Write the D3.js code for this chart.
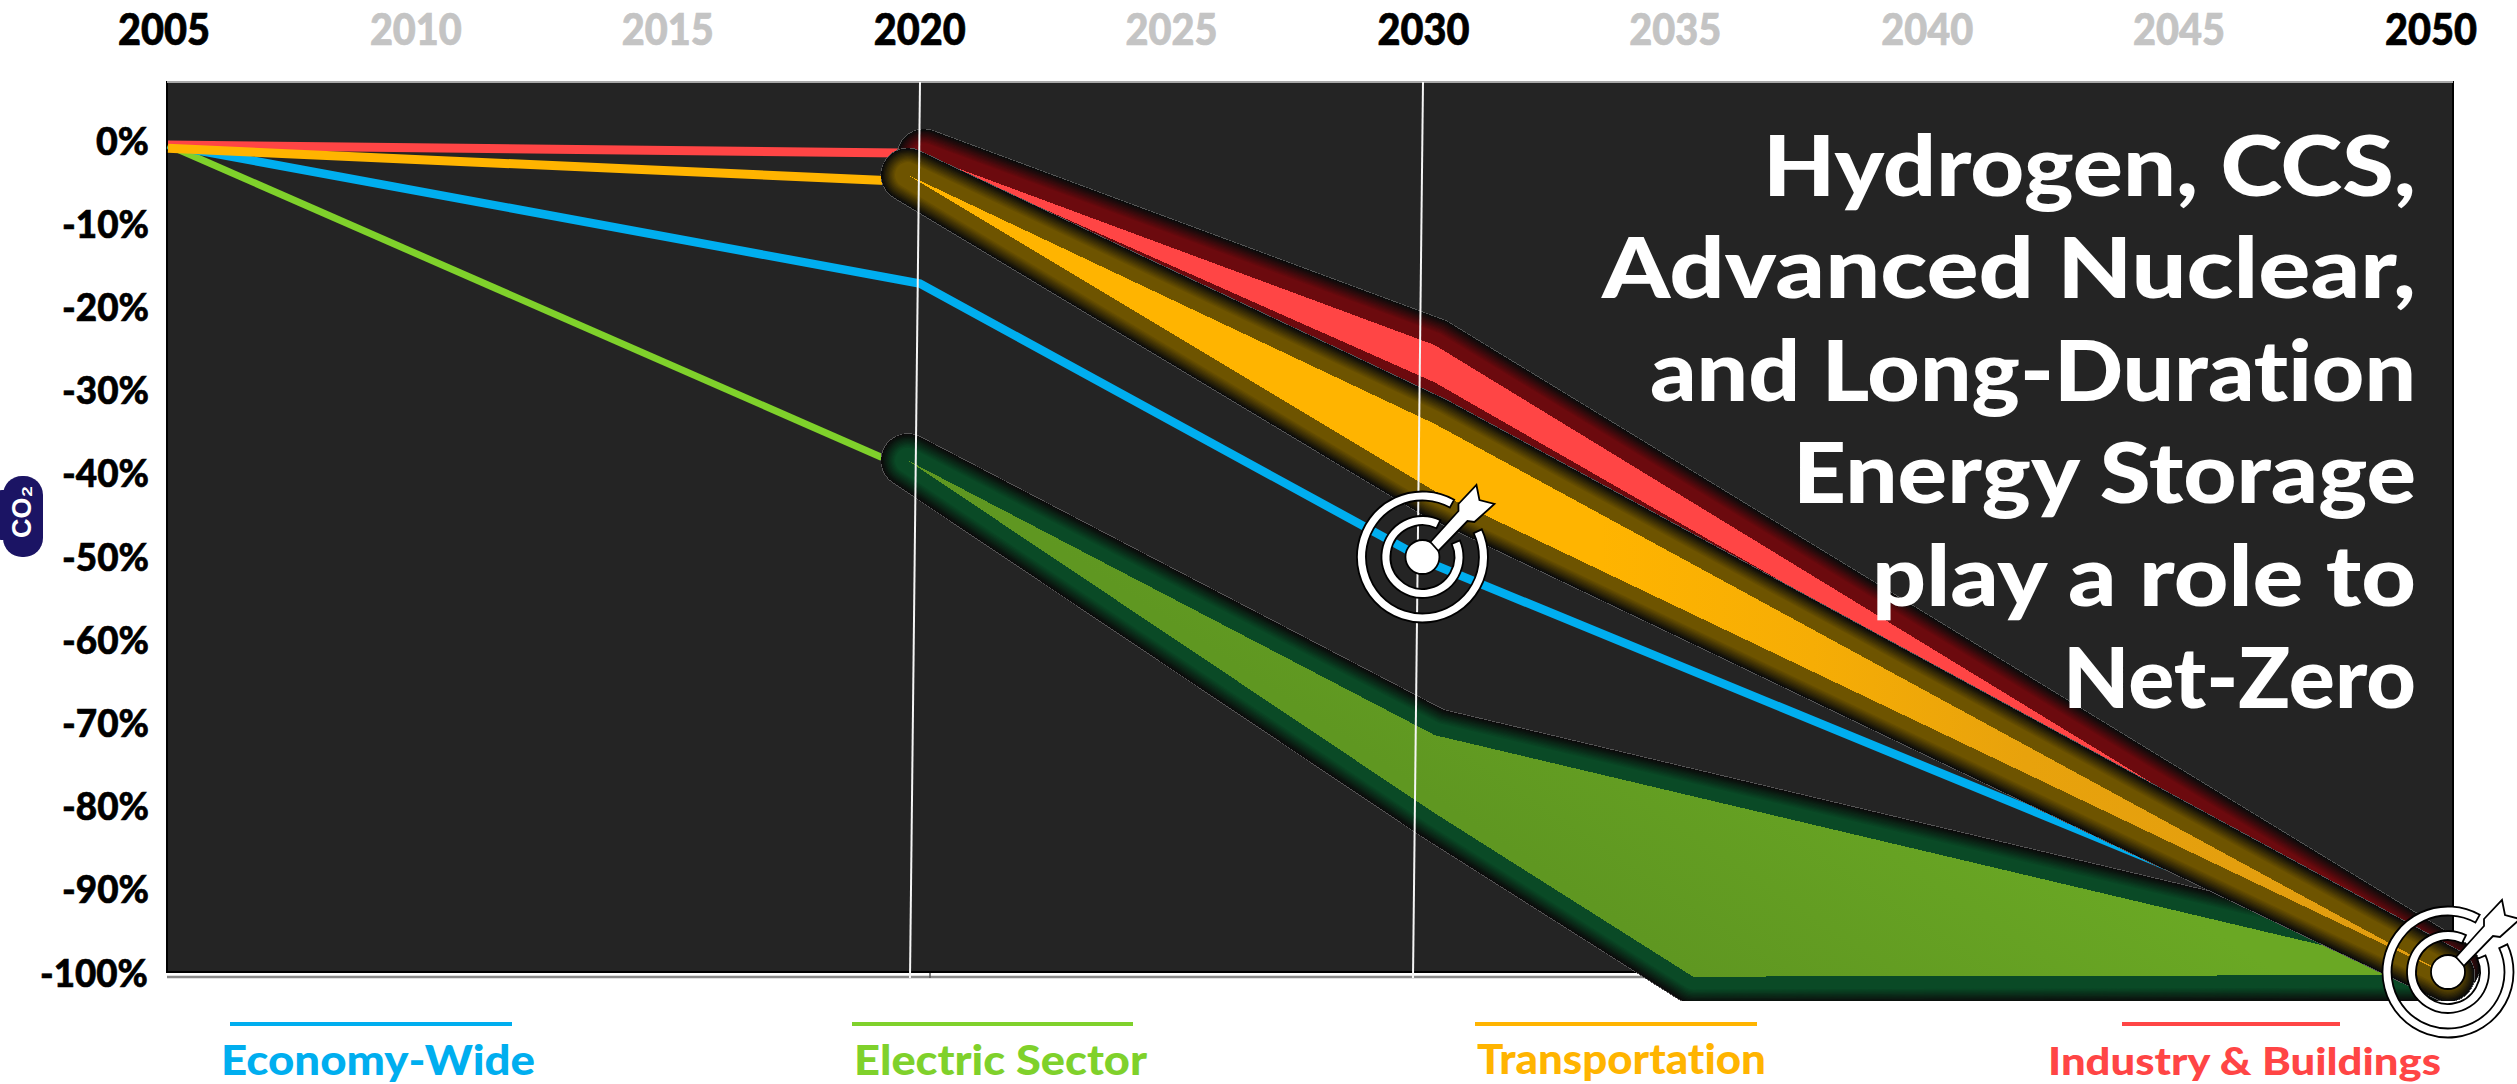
<!DOCTYPE html>
<html><head><meta charset="utf-8">
<script src="https://cdn.jsdelivr.net/npm/d3@7"></script>
<style>html,body{margin:0;padding:0;background:#fff;overflow:hidden}svg{display:block}text{font-family:Lato,"Open Sans",sans-serif;font-weight:900;font-variant-ligatures:none}</style>
</head><body><svg id="c" width="2517" height="1084"></svg>
<script>
const tickYears=[2005,2010,2015,2020,2025,2030,2035,2040,2045,2050];
const keyYears=[2005,2020,2030,2050];
const yTicks=[0,-10,-20,-30,-40,-50,-60,-70,-80,-90,-100];
const headline=["Hydrogen, CCS,","Advanced Nuclear,","and Long-Duration","Energy Storage","play a role to","Net-Zero"];
const legendNames=["Economy-Wide","Electric Sector","Transportation","Industry & Buildings"];

const economyYears=[2005,2019.84,2030,2050];
const economyValues=[0,-16.7,-50.6,-100.8];
const electricLineYears=[2005,2019.6];
const electricLineValues=[0,-39];
const transportLineYears=[2005,2019.6];
const transportLineValues=[-0.4,-4.4];
const industryLineYears=[2005,2019.92];
const industryLineValues=[0,-1];

const electricHighYears=[2019.6,2030,2050];
const electricHighValues=[-38,-71.1,-100];
const electricLowYears=[2019.6,2030,2035.1,2050];
const electricLowValues=[-38,-80.5,-100.2,-100];
const transportHighYears=[2019.6,2030,2050];
const transportHighValues=[-3.6,-33.6,-100];
const transportLowYears=[2019.6,2030,2050];
const transportLowValues=[-3.6,-41.7,-100];
const industryHighYears=[2019.92,2030,2050.1];
const industryHighValues=[-1.3,-24.1,-99];
const industryLowYears=[2019.92,2030,2050.1];
const industryLowValues=[-1.3,-28.6,-99];

const svg=d3.select("#c");
const x=d3.scaleLinear().domain([2005,2050]).range([168,2448]);
const y=d3.scaleLinear().domain([0,-100]).range([145,975]);
const axisX=d3.scaleLinear().domain([2005,2050]).range([164,2431]);
const axisY=d3.scaleLinear().domain([0,-100]).range([141,973]);
const zip=(a,b)=>a.map((d,i)=>[d,b[i]]);
const line=d3.line().x(d=>x(d[0])).y(d=>y(d[1]));
const closed=d3.line().x(d=>x(d[0])).y(d=>y(d[1])).curve(d3.curveLinearClosed);

const defs=svg.append("defs");
defs.append("clipPath").attr("id","glowClip").append("rect").attr("x",0).attr("y",0).attr("width",2517).attr("height",1001);
function grad(id,x1,y1,x2,y2,stops){
  const g=defs.append("linearGradient").attr("id",id).attr("gradientUnits","userSpaceOnUse")
    .attr("x1",x1).attr("y1",y1).attr("x2",x2).attr("y2",y2);
  stops.forEach(s=>g.append("stop").attr("offset",s[0]).attr("stop-color",s[1]));
}
grad("gGreen",1720,990,1900,720,[[0,"#5f9721"],[1,"#6aa824"]]);
grad("gYellow",1600,0,2450,0,[[0,"#ffb400"],[0.25,"#f6ad05"],[0.5,"#e8a20c"],[1,"#e09c10"]]);

// plot panel
svg.append("rect").attr("x",167).attr("y",82).attr("width",2286).attr("height",890).attr("fill","#242424").attr("stroke","#000").attr("stroke-width",2);
svg.append("line").attr("x1",167).attr("x2",2453).attr("y1",82).attr("y2",82).attr("stroke","#a8a8a8").attr("stroke-width",2);
svg.append("line").attr("x1",167).attr("x2",1650).attr("y1",977).attr("y2",977).attr("stroke","#8a8a8a").attr("stroke-width",2.5);
svg.append("line").attr("x1",930).attr("x2",930).attr("y1",973).attr("y2",978).attr("stroke","#555").attr("stroke-width",1.5);

// trend lines
[[electricLineYears,electricLineValues,"#7fd12b",7],
 [economyYears,economyValues,"#00aeef",8.5],
 [industryLineYears,industryLineValues,"#ff4545",9],
 [transportLineYears,transportLineValues,"#ffb400",9]].forEach(s=>{
  svg.append("path").attr("d",line(zip(s[0],s[1]))).attr("fill","none").attr("stroke",s[2]).attr("stroke-width",s[3]);
});

// ribbons with glow
function ribbon(hY,hV,lY,lV,inner,fill){
  const pts=zip(hY,hV).concat(zip(lY,lV).reverse());
  const d=closed(pts);
  const g=svg.append("g").attr("clip-path","url(#glowClip)");
  g.append("path").attr("d",d).attr("fill","#555").attr("stroke","#555").attr("stroke-width",54.5).attr("stroke-linejoin","round").attr("shape-rendering","crispEdges");
  const col=d3.interpolateRgb("#0b0b0b",inner);
  const rs=d3.range(26.5,12.5,-1.25);
  rs.forEach((r,i)=>{
    g.append("path").attr("d",d).attr("fill",col(i/(rs.length-1))).attr("stroke",col(i/(rs.length-1)))
     .attr("stroke-width",2*r).attr("stroke-linejoin","round").attr("shape-rendering",i<2?"crispEdges":"auto");
  });
  svg.append("path").attr("d",d).attr("fill",fill).attr("shape-rendering","crispEdges");
}
ribbon(electricHighYears,electricHighValues,electricLowYears,electricLowValues,"#0a4a26","url(#gGreen)");
ribbon(industryHighYears,industryHighValues,industryLowYears,industryLowValues,"#6c0a0e","#ff4545");
ribbon(transportHighYears,transportHighValues,transportLowYears,transportLowValues,"#6e5400","url(#gYellow)");

// slanted year guides
[[920,82,910,978],[1423,82,1413,978]].forEach(l=>{
  svg.append("line").attr("x1",l[0]).attr("y1",l[1]).attr("x2",l[2]).attr("y2",l[3]).attr("stroke","#f5f5f5").attr("stroke-width",2);
});

// top axis labels
svg.append("g").selectAll("text").data(tickYears).join("text")
  .attr("x",d=>axisX(d)).attr("y",44.5).attr("text-anchor","middle").attr("font-size",43)
  .attr("textLength",92).attr("lengthAdjust","spacingAndGlyphs")
  .attr("fill",d=>keyYears.includes(d)?"#000":"#c4c4c4")
  .attr("stroke",d=>keyYears.includes(d)?"#000":"#c4c4c4").attr("stroke-width",0.7).text(d=>d);
// left axis labels
svg.append("g").selectAll("text").data(yTicks).join("text")
  .attr("x",d=>d===0?96:d===-100?40:62).attr("y",d=>axisY(d)+13.5).attr("font-size",37)
  .attr("textLength",d=>d===0?53:d===-100?108:87).attr("lengthAdjust","spacingAndGlyphs")
  .attr("fill","#000").attr("stroke","#000").attr("stroke-width",0.6).text(d=>d+"%");

// CO2 badge
svg.append("rect").attr("x",3).attr("y",476).attr("width",40).attr("height",81).attr("rx",19).attr("fill","#1b1464");
svg.append("rect").attr("x",-6).attr("y",490).attr("width",24).attr("height",50).attr("rx",8).attr("fill","#1b1464");
svg.append("text").attr("transform","translate(31,538) rotate(-90)").attr("font-size",27)
  .style("font-family","'Liberation Sans',sans-serif").style("font-weight",700)
  .attr("fill","#fff").text("CO₂");

// headline
svg.append("g").selectAll("text").data(headline).join("text")
  .attr("x",2416).attr("y",(d,i)=>196+i*102.4).attr("text-anchor","end").attr("font-size",84)
  .attr("textLength",(d,i)=>[653,814,766,623,544,353][i]).attr("lengthAdjust","spacingAndGlyphs")
  .attr("fill","#fff").text(d=>d);

// legend
const legendColors=["#00aeef","#7fd12b","#ffb400","#ff4545"];
const legendBars=[[230,512],[852,1133],[1475,1757],[2122,2340]];
const legendText=[[221,314,1075],[854,293,1075],[1477,289,1074],[2048,393,1075]];
legendNames.forEach((n,i)=>{
  svg.append("line").attr("x1",legendBars[i][0]).attr("x2",legendBars[i][1]).attr("y1",1024).attr("y2",1024).attr("stroke",legendColors[i]).attr("stroke-width",4);
  svg.append("text").attr("x",legendText[i][0]).attr("y",legendText[i][2]).attr("font-size",i===3?38:41)
    .attr("textLength",legendText[i][1]).attr("lengthAdjust","spacingAndGlyphs").attr("fill",legendColors[i]).text(n);
});

// target icons
function target(cx,cy){
  const g=svg.append("g").attr("transform",`translate(${cx},${cy})`);
  const rad=d=>d*Math.PI/180;
  const arc=d3.arc();
  const style=s=>s.attr("fill","#fff").attr("stroke","#000").attr("stroke-width",1.8);
  style(g.append("path").attr("d",arc({innerRadius:56.5,outerRadius:65.5,startAngle:rad(65),endAngle:rad(389)})));
  style(g.append("path").attr("d",arc({innerRadius:32,outerRadius:41,startAngle:rad(66),endAngle:rad(386)})));
  style(g.append("circle").attr("r",17));
  style(g.append("path").attr("d",d3.line()([[8,-15],[36,-46],[36,-53],[54,-72],[57,-57],[72,-53],[52,-35],[45,-36],[16,-6]])+"Z"));
}
target(axisX(2030)-1,axisY(-50));
target(x(2050),axisY(-100)-1);
</script></body></html>
